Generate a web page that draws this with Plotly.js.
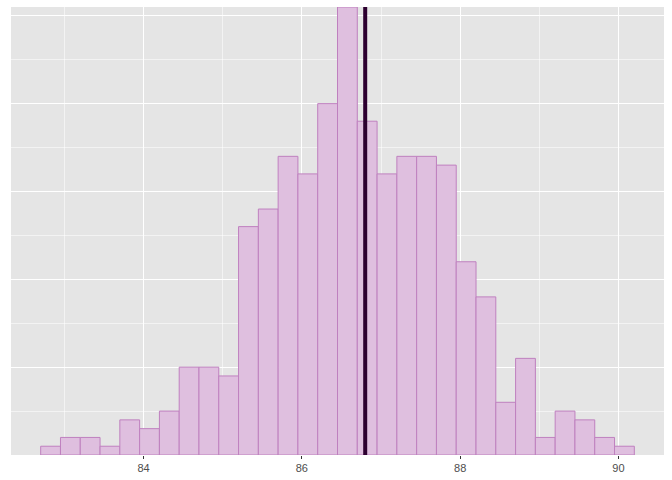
<!DOCTYPE html>
<html>
<head>
<meta charset="utf-8">
<script src="https://cdn.plot.ly/plotly-3.0.1.min.js"></script>
<style>html,body{margin:0;padding:0;background:#fff;}#chart{width:672px;height:480px;}</style>
</head>
<body>
<div id="chart"></div>
<script>
// Histogram bins (left edge of first bin, bin width) and counts
const binStart = 82.70;
const binWidth = 0.25;
const counts = [1, 2, 2, 1, 4, 3, 5, 10, 10, 9, 26, 28, 34, 32, 40, 51, 38, 32, 34, 34, 33, 22, 18, 6, 11, 2, 5, 4, 2, 1];
const meanValue = 86.80;
const tickValues = [84, 86, 88, 90];
const tickLabels = ["84", "86", "88", "90"];

const centers = counts.map((_, i) => binStart + binWidth * (i + 0.5));

const trace = {
  type: 'bar',
  x: centers,
  y: counts,
  width: binWidth,
  marker: { color: '#DFBFDF', line: { color: '#BF80BF', width: 1 } },
  hoverinfo: 'x+y'
};

const layout = {
  width: 672, height: 480,
  margin: { l: 11, r: 8, t: 7, b: 25 },
  paper_bgcolor: '#FFFFFF',
  plot_bgcolor: '#E5E5E5',
  bargap: 0,
  showlegend: false,
  font: { family: 'Liberation Sans, Arial, sans-serif', size: 11, color: '#4D4D4D' },
  xaxis: {
    range: [82.325, 90.575],
    tickvals: tickValues,
    ticktext: tickLabels,
    ticks: 'outside', ticklen: 3, tickwidth: 1, tickcolor: '#333333',
    showgrid: true, gridcolor: '#FFFFFF', gridwidth: 1.1,
    minor: { dtick: 2, tick0: 83, showgrid: true, gridcolor: '#FFFFFF', gridwidth: 0.55, ticks: '' },
    zeroline: false, showline: false,
    tickfont: { size: 11, color: '#4D4D4D' }
  },
  yaxis: {
    range: [0, 51],
    tickvals: [0, 10, 20, 30, 40, 50],
    showticklabels: false,
    ticks: '',
    showgrid: true, gridcolor: '#FFFFFF', gridwidth: 1.1,
    minor: { dtick: 10, tick0: 5, showgrid: true, gridcolor: '#FFFFFF', gridwidth: 0.55, ticks: '' },
    zeroline: false, showline: false
  },
  shapes: [{
    type: 'line', xref: 'x', yref: 'paper',
    x0: meanValue, x1: meanValue, y0: 0, y1: 1,
    line: { color: '#2D0030', width: 4 }
  }]
};

Plotly.newPlot('chart', [trace], layout, { displayModeBar: false, staticPlot: true });
</script>
</body>
</html>
